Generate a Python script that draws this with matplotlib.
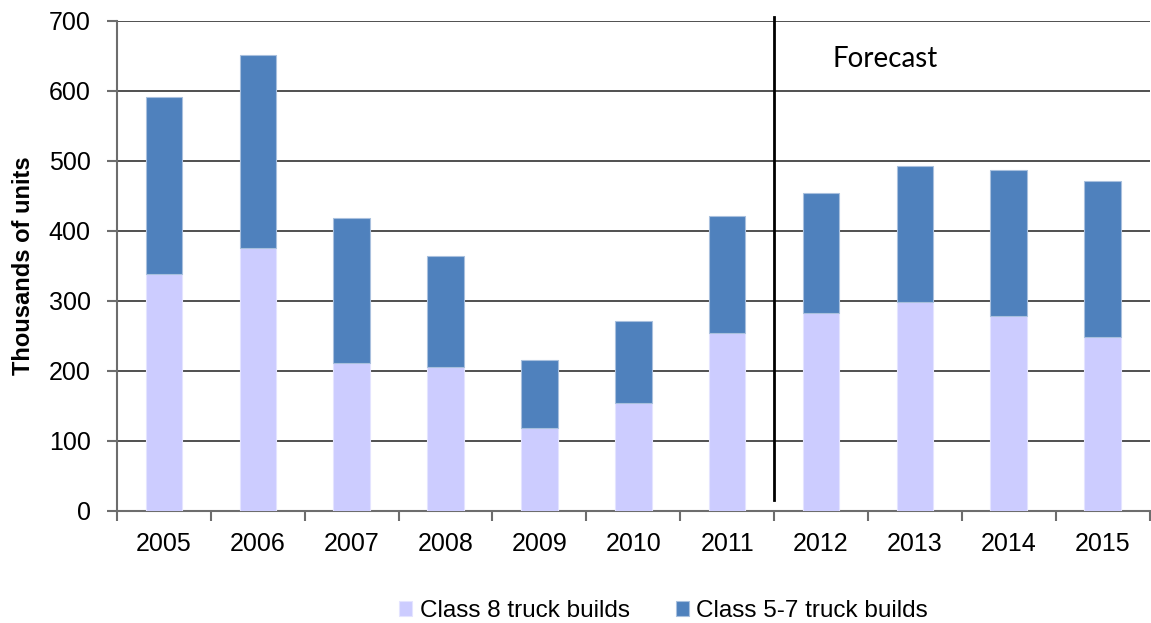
import numpy as np
import matplotlib
matplotlib.use('Agg')
import matplotlib.pyplot as plt

# data (thousands of units)
years = ['2005', '2006', '2007', '2008', '2009', '2010', '2011',
         '2012', '2013', '2014', '2015']
class8 = [339, 376, 212, 205, 118, 154, 254, 283, 299, 279, 249]
class57 = [252, 276, 206, 159, 97, 118, 168, 171, 194, 208, 222]
forecast_start = 7  # first forecast year index (2012)

plt.rcParams['font.family'] = ['Liberation Sans', 'DejaVu Sans']

fig = plt.figure(figsize=(11.51, 6.23), dpi=100)
ax = fig.add_axes([0.1017, 0.1798, 0.897, 0.7865])

x = np.arange(len(years))
w = 0.39
ax.bar(x, class8, w, color='#CCCCFF', edgecolor='#E4E4FF', linewidth=0.8,
       label='Class 8 truck builds', zorder=3)
ax.bar(x, class57, w, bottom=class8, color='#4F81BD', edgecolor='#A9C0DE',
       linewidth=0.8, label='Class 5-7 truck builds', zorder=3)

ax.set_xlim(-0.5, len(years) - 0.5)
ax.set_ylim(0, 700)
ax.set_yticks(range(0, 701, 100))
ax.yaxis.grid(True, color='#202020', linewidth=1.1, zorder=0)
ax.set_axisbelow(True)

# year labels at bar centres, tick marks on category boundaries
ax.set_xticks(x)
ax.set_xticklabels(years, fontsize=18)
ax.tick_params(axis='x', which='major', length=0, pad=15)
ax.set_xticks(np.arange(-0.5, len(years)), minor=True)
ax.tick_params(axis='x', which='minor', length=7, width=1.5, color='#6d6d6d')
ax.tick_params(axis='y', labelsize=18, length=7, width=1.5, color='#6d6d6d', pad=12)

for s in ['top', 'right']:
    ax.spines[s].set_visible(False)
for s in ['left', 'bottom']:
    ax.spines[s].set_color('#6d6d6d')
    ax.spines[s].set_linewidth(1.5)

ax.set_ylabel('Thousands of units', fontsize=17, fontweight='bold', labelpad=10)

# forecast divider
ax.axvline(forecast_start - 0.5, ymin=0.022, ymax=1.008, color='black',
           linewidth=2, clip_on=False, zorder=4)
ax.text(forecast_start + 0.12, 645, 'Forecast', fontsize=20, family=['Lato', 'DejaVu Sans'],
        va='center', ha='left')

fig.legend(loc='lower center', bbox_to_anchor=(0.5765, -0.034), ncol=2, frameon=False,
           fontsize=17.5, handlelength=0.55, handleheight=0.55, handletextpad=0.3,
           columnspacing=1.9)

fig.savefig('out.png', dpi=100)
